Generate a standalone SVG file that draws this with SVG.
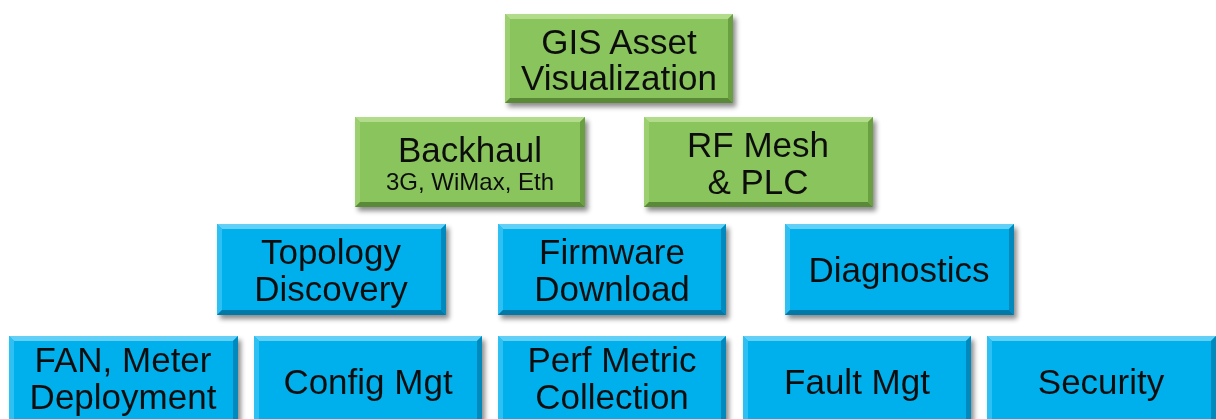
<svg xmlns="http://www.w3.org/2000/svg" width="1216" height="419" viewBox="0 0 1216 419">
<defs>
<filter id="sh" x="-10%" y="-10%" width="125%" height="135%">
<feDropShadow dx="3" dy="4" stdDeviation="2.5" flood-color="#000" flood-opacity="0.45"/>
</filter>
<style>
.g .face{fill:#89c45b}
.g .t{fill:#b2dc8c}
.g .l{fill:#9ccf70}
.g .r{fill:#6b9f43}
.g .b{fill:#5a8a37}
.u .face{fill:#00b0ec}
.u .t{fill:#62d0f6}
.u .l{fill:#2fc0f2}
.u .r{fill:#0089bd}
.u .b{fill:#0078a8}
text{font-family:"Liberation Sans",Arial,sans-serif;font-size:35px;fill:#111;text-anchor:middle}
.sm{font-size:24px}
</style>
</defs>
<rect width="1216" height="419" fill="#fff"/>
<g id="connectors"></g>

<g id="gis" class="g" filter="url(#sh)">
<rect class="face" x="505" y="14" width="228" height="89"/>
<polygon class="t" points="505,14 733,14 728,19 510,19"/>
<polygon class="l" points="505,14 510,19 510,98 505,103"/>
<polygon class="r" points="733,14 733,103 728,98 728,19"/>
<polygon class="b" points="505,103 733,103 728,98 510,98"/>
<text x="619" y="54">GIS Asset</text>
<text x="619" y="90">Visualization</text>
</g>

<g id="backhaul" class="g" filter="url(#sh)">
<rect class="face" x="355" y="117" width="230" height="90"/>
<polygon class="t" points="355,117 585,117 580,122 360,122"/>
<polygon class="l" points="355,117 360,122 360,202 355,207"/>
<polygon class="r" points="585,117 585,207 580,202 580,122"/>
<polygon class="b" points="355,207 585,207 580,202 360,202"/>
<text x="470" y="162">Backhaul</text>
<text class="sm" x="470" y="190">3G, WiMax, Eth</text>
</g>

<g id="rfmesh" class="g" filter="url(#sh)">
<rect class="face" x="644" y="117" width="229" height="90"/>
<polygon class="t" points="644,117 873,117 868,122 649,122"/>
<polygon class="l" points="644,117 649,122 649,202 644,207"/>
<polygon class="r" points="873,117 873,207 868,202 868,122"/>
<polygon class="b" points="644,207 873,207 868,202 649,202"/>
<text x="758" y="157">RF Mesh</text>
<text x="758" y="194">&amp; PLC</text>
</g>

<g id="topology" class="u" filter="url(#sh)">
<rect class="face" x="217" y="224" width="229" height="91"/>
<polygon class="t" points="217,224 446,224 441,229 222,229"/>
<polygon class="l" points="217,224 222,229 222,310 217,315"/>
<polygon class="r" points="446,224 446,315 441,310 441,229"/>
<polygon class="b" points="217,315 446,315 441,310 222,310"/>
<text x="331" y="264">Topology</text>
<text x="331" y="301">Discovery</text>
</g>

<g id="firmware" class="u" filter="url(#sh)">
<rect class="face" x="498" y="224" width="228" height="91"/>
<polygon class="t" points="498,224 726,224 721,229 503,229"/>
<polygon class="l" points="498,224 503,229 503,310 498,315"/>
<polygon class="r" points="726,224 726,315 721,310 721,229"/>
<polygon class="b" points="498,315 726,315 721,310 503,310"/>
<text x="612" y="264">Firmware</text>
<text x="612" y="301">Download</text>
</g>

<g id="diagnostics" class="u" filter="url(#sh)">
<rect class="face" x="785" y="224" width="229" height="91"/>
<polygon class="t" points="785,224 1014,224 1009,229 790,229"/>
<polygon class="l" points="785,224 790,229 790,310 785,315"/>
<polygon class="r" points="1014,224 1014,315 1009,310 1009,229"/>
<polygon class="b" points="785,315 1014,315 1009,310 790,310"/>
<text x="899" y="282">Diagnostics</text>
</g>

<g id="fan" class="u" filter="url(#sh)">
<rect class="face" x="9" y="336" width="229" height="92"/>
<polygon class="t" points="9,336 238,336 233,341 14,341"/>
<polygon class="l" points="9,336 14,341 14,428 9,428"/>
<polygon class="r" points="238,336 238,428 233,428 233,341"/>
<text x="123" y="372">FAN, Meter</text>
<text x="123" y="409">Deployment</text>
</g>

<g id="config" class="u" filter="url(#sh)">
<rect class="face" x="254" y="336" width="228" height="92"/>
<polygon class="t" points="254,336 482,336 477,341 259,341"/>
<polygon class="l" points="254,336 259,341 259,428 254,428"/>
<polygon class="r" points="482,336 482,428 477,428 477,341"/>
<text x="368" y="394">Config Mgt</text>
</g>

<g id="perf" class="u" filter="url(#sh)">
<rect class="face" x="498" y="336" width="228" height="92"/>
<polygon class="t" points="498,336 726,336 721,341 503,341"/>
<polygon class="l" points="498,336 503,341 503,428 498,428"/>
<polygon class="r" points="726,336 726,428 721,428 721,341"/>
<text x="612" y="372">Perf Metric</text>
<text x="612" y="409">Collection</text>
</g>

<g id="fault" class="u" filter="url(#sh)">
<rect class="face" x="743" y="336" width="228" height="92"/>
<polygon class="t" points="743,336 971,336 966,341 748,341"/>
<polygon class="l" points="743,336 748,341 748,428 743,428"/>
<polygon class="r" points="971,336 971,428 966,428 966,341"/>
<text x="857" y="394">Fault Mgt</text>
</g>

<g id="security" class="u" filter="url(#sh)">
<rect class="face" x="987" y="336" width="229" height="92"/>
<polygon class="t" points="987,336 1216,336 1211,341 992,341"/>
<polygon class="l" points="987,336 992,341 992,428 987,428"/>
<polygon class="r" points="1216,336 1216,428 1211,428 1211,341"/>
<text x="1101" y="394">Security</text>
</g>
</svg>
